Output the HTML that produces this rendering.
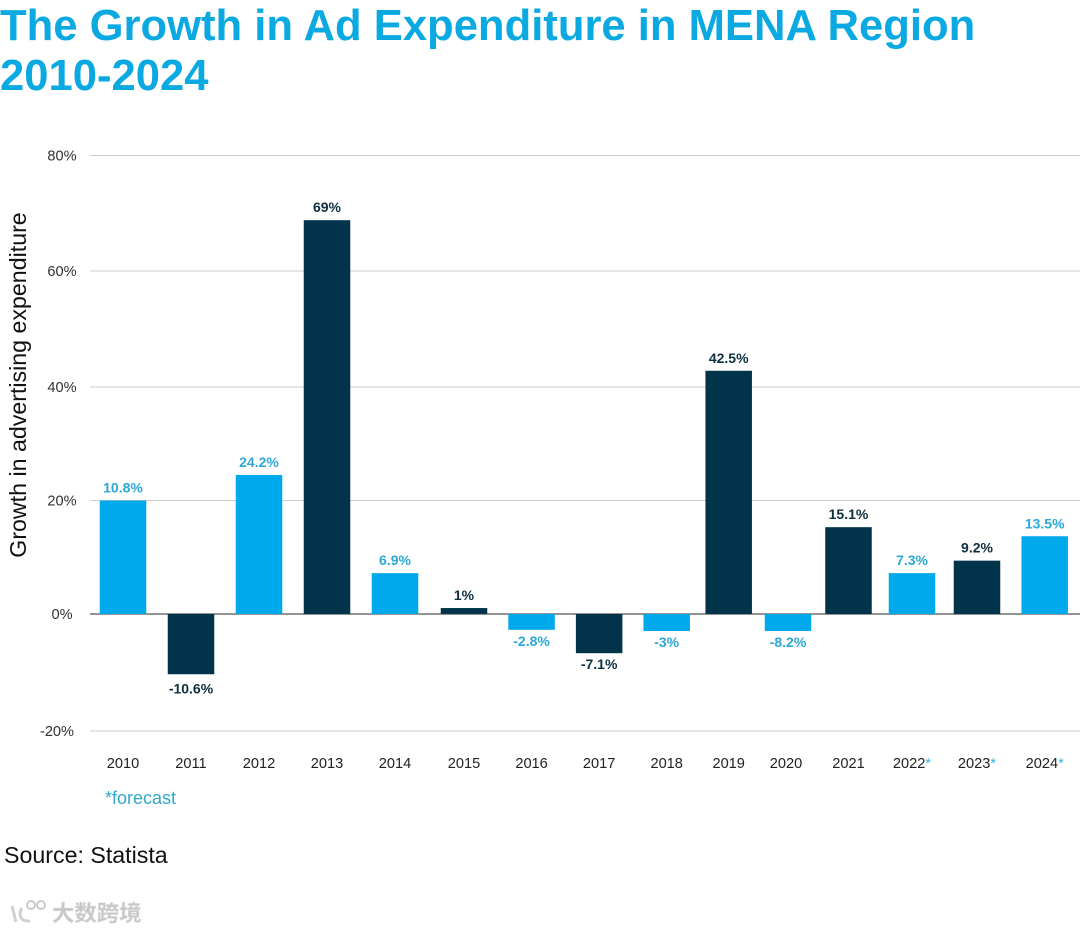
<!DOCTYPE html>
<html lang="en">
<head>
<meta charset="utf-8">
<title>The Growth in Ad Expenditure in MENA Region 2010-2024</title>
<style>
html,body{margin:0;padding:0;background:#fff;}
#chart{display:block;width:1080px;height:933px;font-family:"Liberation Sans",Arial,sans-serif;}
</style>
</head>
<body>
<svg id="chart" xmlns="http://www.w3.org/2000/svg" width="1080" height="933" viewBox="0 0 1080 933">
  <text x="0" y="40" font-size="43.6" font-weight="700" fill="#0ba9e2">The Growth in Ad Expenditure in MENA Region</text>
  <text x="0" y="90" font-size="43.6" font-weight="700" fill="#0ba9e2">2010-2024</text>
  <text transform="translate(26,385) rotate(-90)" text-anchor="middle" font-size="23.2" fill="#111">Growth in advertising expenditure</text>
  <g id="grid"></g>
  <g id="bars"></g>
  <g id="xticks"></g>
  <text x="105" y="804" font-size="18" fill="#2fa9c9">*forecast</text>
  <text x="4" y="863" font-size="23.2" fill="#111">Source: Statista</text>
  <g opacity="0.95">
    <circle cx="31" cy="905" r="4" fill="none" stroke="#c9c9c9" stroke-width="2"/>
    <circle cx="41" cy="905" r="4" fill="none" stroke="#c9c9c9" stroke-width="2"/>
    <path d="M12 906 L16 922 M22 908 C18 914 20 922 30 921" fill="none" stroke="#cfcfcf" stroke-width="3"/>
    <text x="52" y="921" font-size="22.4" font-weight="700" fill="#c4c4c4" stroke="#e2e2e2" stroke-width="0.6" font-family="'Liberation Sans','Noto Sans CJK SC',sans-serif">大数跨境</text>
  </g>
</svg>
<script>
var categories = ['2010','2011','2012','2013','2014','2015','2016','2017','2018','2019','2020','2021','2022','2023','2024'];
var barValues = [20, -10.3, 24.5, 68.8, 7.2, 1.05, -2.7, -6.7, -2.9, 42.8, -2.9, 15.3, 7.2, 9.4, 13.7];
var printedLabels = ['10.8%','-10.6%','24.2%','69%','6.9%','1%','-2.8%','-7.1%','-3%','42.5%','-8.2%','15.1%','7.3%','9.2%','13.5%'];
var seriesGroup = ['light','dark','light','dark','light','dark','light','dark','light','dark','light','dark','light','dark','light'];
var forecastFlags = [0,0,0,0,0,0,0,0,0,0,0,0,1,1,1];
var yTicks = [80, 60, 40, 20, 0, -20];

var SVGNS = 'http://www.w3.org/2000/svg';

function piecewise(domain, range) {
  return function (v) {
    var i = 0;
    while (i < domain.length - 2 && v > domain[i + 1]) i++;
    return range[i] + (v - domain[i]) * (range[i + 1] - range[i]) / (domain[i + 1] - domain[i]);
  };
}
/* the reference axes are slightly uneven, so both scales are piecewise linear */
var xScale = piecewise([0, 4, 5, 8, 9, 10, 11, 12, 13, 14], [123, 395, 464, 666.7, 728.7, 788, 848.5, 912, 977, 1044.7]);
var yScale = piecewise([-20, 0, 20, 40, 60, 80], [731, 614, 500.5, 387, 271, 155.5]);
var BAR_WIDTH = 46.5;
var COLORS = {
  light: { bar: '#00a9ec', label: '#2ba8d8' },
  dark: { bar: '#01344b', label: '#0d2f40' }
};

function make(tag, attrs, text) {
  var el = document.createElementNS(SVGNS, tag);
  for (var k in attrs) el.setAttribute(k, attrs[k]);
  if (text !== undefined) el.textContent = text;
  return el;
}

var grid = document.getElementById('grid');
yTicks.forEach(function (t) {
  var y = yScale(t);
  var line = make('line', { x1: 90, x2: 1080, y1: y, y2: y, stroke: t === 0 ? '#555' : '#ccc', 'stroke-width': t === 0 ? 1.3 : 1 });
  
  
  grid.appendChild(line);
  var label = make('text', { x: t < 0 ? 57 : 62, y: y + 5, 'text-anchor': 'middle', 'font-size': 14.6, fill: '#333' }, t + '%');
  
  
  grid.appendChild(label);
});

var bars = document.getElementById('bars');
var xticks = document.getElementById('xticks');
categories.forEach(function (cat, i) {
  var cx = xScale(i);
  var v = barValues[i];
  var y0 = yScale(0);
  var yv = yScale(v);
  var c = COLORS[seriesGroup[i]];
  var rect = make('rect', { x: cx - BAR_WIDTH / 2, y: Math.min(y0, yv), width: BAR_WIDTH, height: Math.abs(yv - y0), fill: c.bar });
  
  
  bars.appendChild(rect);

  var ly = v >= 0 ? yv - 8 : yv + (v < -10 ? 19 : 16);
  var val = make('text', { x: cx, y: ly, 'text-anchor': 'middle', 'font-size': 14, 'font-weight': 700, fill: c.label }, printedLabels[i]);
  
  
  bars.appendChild(val);

  var tick = make('text', { x: cx - (i === 10 ? 2 : 0), y: 768, 'text-anchor': 'middle', 'font-size': 14.6, fill: '#222' }, cat);
  
  
  if (forecastFlags[i]) {
    var star = make('tspan', { fill: '#35b4e3' }, '*');
    
    
    tick.appendChild(star);
  }
  xticks.appendChild(tick);
});
</script>
</body>
</html>
